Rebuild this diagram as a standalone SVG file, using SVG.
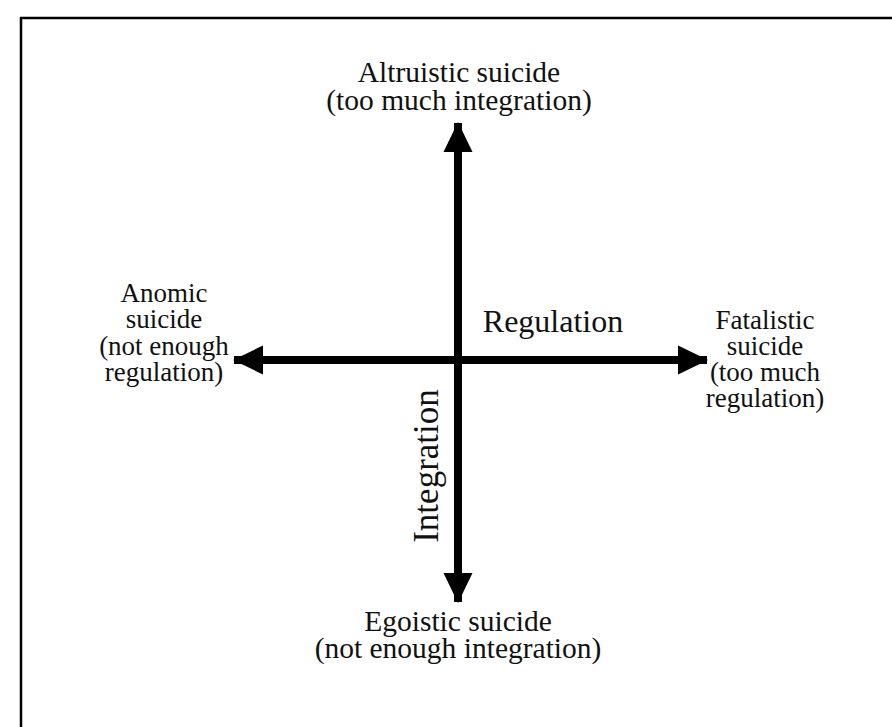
<svg xmlns="http://www.w3.org/2000/svg" width="892" height="727" viewBox="0 0 892 727">
<style>
text{font-family:"Liberation Serif","Times New Roman",serif;fill:#111;text-anchor:middle}
.lbl{font-size:29.5px}
.side{font-size:27px}
.ax{font-size:32px}
.shaft{stroke:#000;stroke-width:8;fill:none}
</style>
<defs>
<marker id="ah" viewBox="0 0 30 30" refX="29" refY="15" markerWidth="30" markerHeight="30" markerUnits="userSpaceOnUse" orient="auto">
<path d="M0,0.5 L30,15 L0,29.5 Z" fill="#000"/>
</marker>
</defs>
<rect width="892" height="727" fill="#fff"/>
<rect x="21" y="18" width="880" height="720" fill="none" stroke="#000" stroke-width="2.5"/>
<g id="connectors">
<line class="shaft" x1="458" y1="360" x2="458" y2="123" marker-end="url(#ah)"/>
<line class="shaft" x1="458" y1="360" x2="458" y2="602" marker-end="url(#ah)"/>
<line class="shaft" x1="458" y1="360" x2="234" y2="360" marker-end="url(#ah)"/>
<line class="shaft" x1="458" y1="360" x2="707" y2="360" marker-end="url(#ah)"/>
</g>
<g id="altruistic"><text class="lbl" x="459" y="82">Altruistic suicide</text><text class="lbl" x="459" y="110">(too much integration)</text></g>
<g id="anomic"><text class="side" x="164" y="302">Anomic</text><text class="side" x="164" y="328">suicide</text><text class="side" x="164" y="355">(not enough</text><text class="side" x="164" y="381">regulation)</text></g>
<g id="fatalistic"><text class="side" x="765" y="329">Fatalistic</text><text class="side" x="765" y="355">suicide</text><text class="side" x="765" y="381">(too much</text><text class="side" x="765" y="407">regulation)</text></g>
<g id="egoistic"><text class="lbl" x="458" y="631">Egoistic suicide</text><text class="lbl" x="458" y="658">(not enough integration)</text></g>
<g id="regulation"><text class="ax" x="553" y="332">Regulation</text></g>
<g id="integration"><text class="ax" style="font-size:35px" transform="translate(438,466) rotate(-90)">Integration</text></g>
</svg>
